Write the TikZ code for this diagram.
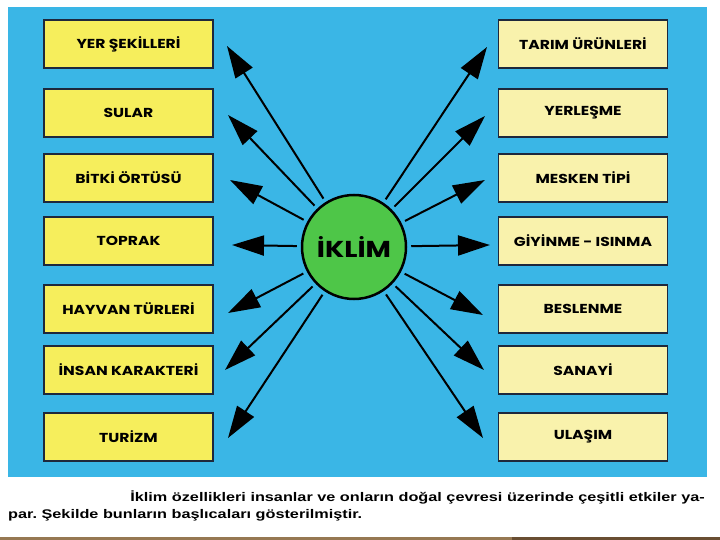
\documentclass[tikz,border=0pt]{standalone}
\usepackage{fontspec}
\setmainfont{Liberation Sans}[FakeStretch=1.3]
\newfontfamily\boxfont{Poppins}[FakeStretch=1.2]
\usetikzlibrary{arrows.meta}

\definecolor{panelblue}{RGB}{58,182,230}
\definecolor{leftyellow}{RGB}{246,238,92}
\definecolor{rightyellow}{RGB}{249,242,172}
\definecolor{hubgreen}{RGB}{78,198,72}
\definecolor{boxline}{RGB}{30,40,60}
\definecolor{stripbrown}{RGB}{150,120,82}
\definecolor{stripdark}{RGB}{105,78,50}

\begin{document}
\frenchspacing
\begin{tikzpicture}[x=1pt, y=-1pt,
    leftbox/.style={draw=boxline, line width=1.1pt, fill=leftyellow,
        minimum width=169pt, minimum height=48pt,
        font=\boxfont\bfseries\fontsize{13}{15}\selectfont},
    rightbox/.style={leftbox, fill=rightyellow},
    hub/.style={circle, draw=black, line width=2.5pt, fill=hubgreen,
        minimum size=104pt, inner sep=0pt,
        font=\boxfont\bfseries\fontsize{23}{26}\selectfont},
    ray/.style={-{Triangle[length=32pt, width=20pt]}, line width=2pt,
        shorten <=4pt},
    caption/.style={inner sep=0pt,
        font=\bfseries\fontsize{12.5}{15}\selectfont}]
    \useasboundingbox (0, 0) rectangle (720, 540);
    \fill[panelblue] (8, 7) rectangle (707, 477);
    \fill[stripbrown] (0, 537) rectangle (512, 540);
    \fill[stripdark] (512, 537) rectangle (720, 540);

    \node[hub] (iklim) at (354, 247) {İKLİM};

    % boxes on the left
    \foreach \n/\y/\t in {
        yer/44/YER ŞEKİLLERİ,
        sular/113/SULAR,
        bitki/178/BİTKİ ÖRTÜSÜ,
        toprak/241/TOPRAK,
        hayvan/309/HAYVAN TÜRLERİ,
        insan/370/İNSAN KARAKTERİ,
        turizm/437/TURİZM
    } {
        \node[leftbox] (\n) at (128.5, \y) {\t};
    }
    % boxes on the right
    \foreach \n/\y/\t in {
        tarim/44/TARIM ÜRÜNLERİ,
        yerlesme/113/YERLEŞME,
        mesken/178/MESKEN TİPİ,
        giyinme/241/GİYİNME - ISINMA,
        beslenme/309/BESLENME,
        sanayi/370/SANAYİ,
        ulasim/437/ULAŞIM
    } {
        \node[rightbox] (\n) at (583, \y) {\t};
    }

    % arrow tips
    \foreach \n/\x/\y in {
        yer/227/46,
        sular/228/115,
        bitki/230/180,
        toprak/232/245,
        hayvan/228/313,
        insan/225/370,
        turizm/228/438,
        tarim/487/47,
        yerlesme/485/116,
        mesken/485/180,
        giyinme/490/245,
        beslenme/483/315,
        sanayi/484/370,
        ulasim/483/438
    } {
        \coordinate (\n tip) at (\x, \y);
        \draw[ray] (iklim) -- (\n tip);
    }

    \node[caption, anchor=base east] (cap1) at (705, 501)
        {İklim özellikleri insanlar ve onların doğal çevresi üzerinde çeşitli etkiler ya-};
    \node[caption, anchor=base west] (cap2) at (8, 518)
        {par. Şekilde bunların başlıcaları gösterilmiştir.};
\end{tikzpicture}
\end{document}
